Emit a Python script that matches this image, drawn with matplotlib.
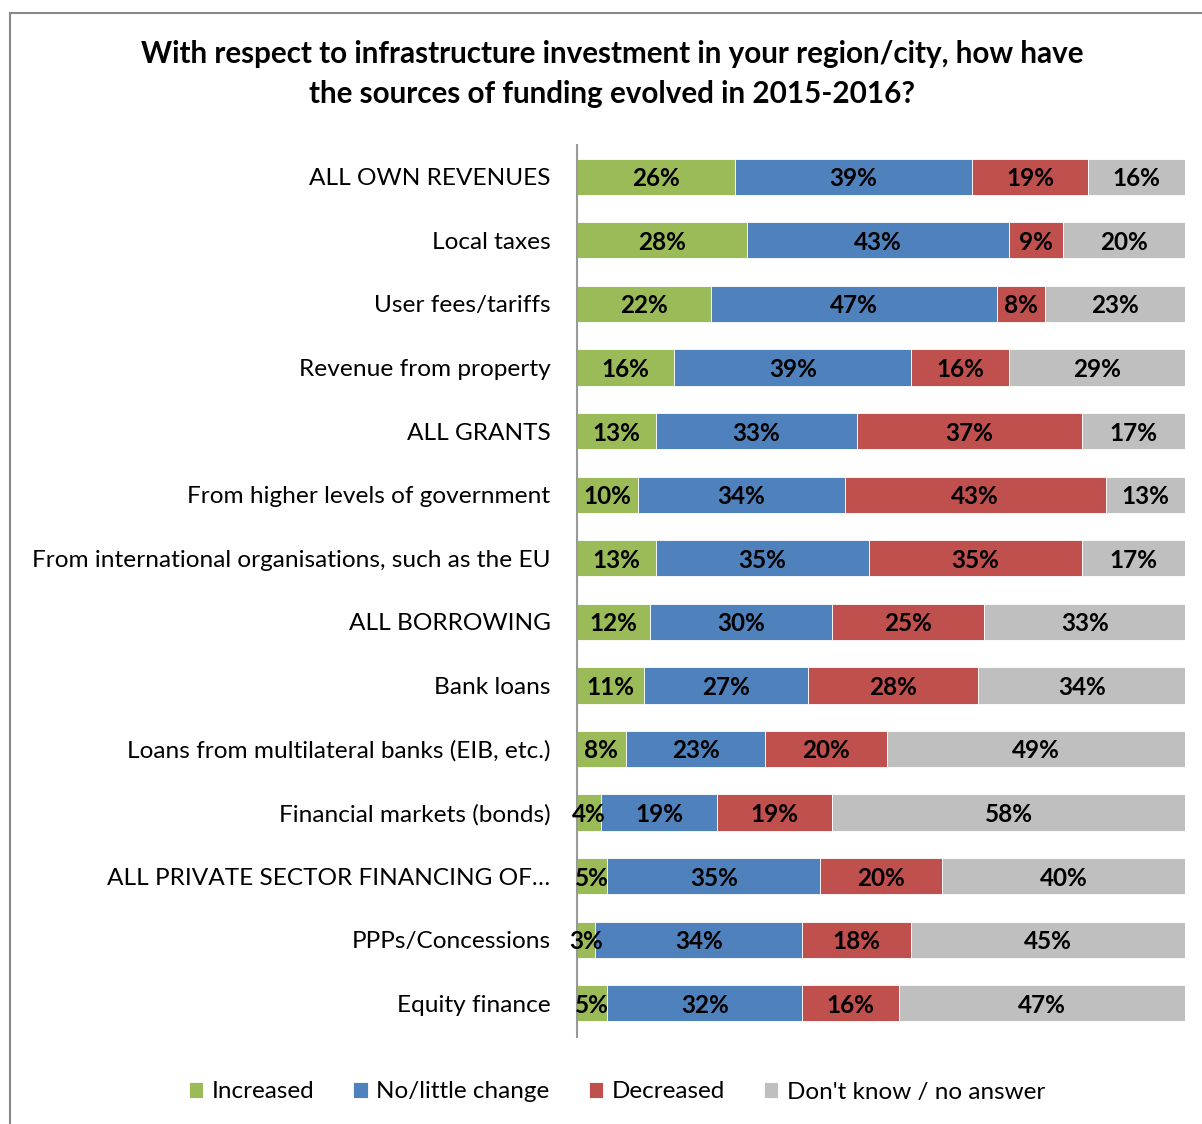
import numpy as np
import matplotlib
matplotlib.use('Agg')
import matplotlib.pyplot as plt
from matplotlib.patches import Rectangle

plt.rcParams['font.family'] = ['Lato', 'DejaVu Sans']

categories = ['ALL OWN REVENUES', 'Local taxes', 'User fees/tariffs',
              'Revenue from property', 'ALL GRANTS',
              'From higher levels of government',
              'From international organisations, such as the EU',
              'ALL BORROWING', 'Bank loans',
              'Loans from multilateral banks (EIB, etc.)',
              'Financial markets (bonds)',
              'ALL PRIVATE SECTOR FINANCING OF\u2026',
              'PPPs/Concessions', 'Equity finance']
increased = [26, 28, 22, 16, 13, 10, 13, 12, 11, 8, 4, 5, 3, 5]
no_change = [39, 43, 47, 39, 33, 34, 35, 30, 27, 23, 19, 35, 34, 32]
decreased = [19, 9, 8, 16, 37, 43, 35, 25, 28, 20, 19, 20, 18, 16]
dont_know = [16, 20, 23, 29, 17, 13, 17, 33, 34, 49, 58, 40, 45, 47]

series = [('Increased', increased, '#9BBB59'),
          ('No/little change', no_change, '#4F81BD'),
          ('Decreased', decreased, '#C0504D'),
          ("Don't know / no answer", dont_know, '#BFBFBF')]

fig = plt.figure(figsize=(12.02, 11.24), dpi=100)
fig.patches.append(Rectangle((10/1202, -0.1), 1.2, 1 - 13/1124 + 0.1,
                             transform=fig.transFigure, fill=False,
                             edgecolor='#888888', linewidth=1.5))
ax = fig.add_axes([577/1202, 1 - 1037/1124, 608/1202, 892/1124])

y = np.arange(len(categories))
left = np.zeros(len(categories))
for name, vals, col in series:
    vals = np.array(vals, dtype=float)
    bars = ax.barh(y, vals, left=left, height=0.57, color=col,
                   edgecolor='white', linewidth=0.6, label=name)
    for yi, l, v in zip(y, left, vals):
        ax.text(l + v / 2, yi + 0.03, '%d%%' % v, ha='center', va='center',
                fontsize=17.5, fontweight='bold', color='black')
    left += vals

ax.set_xlim(0, 100)
ax.set_ylim(len(categories) - 0.47, -0.5)
ax.set_yticks(y)
ax.set_yticklabels(categories, fontsize=17.6)
ax.tick_params(axis='y', length=0, pad=19)
ax.set_xticks([])
for s in ['top', 'right', 'bottom']:
    ax.spines[s].set_visible(False)
ax.spines['left'].set_color('#999999')
ax.spines['left'].set_linewidth(1.5)

fig.text(612/1202, 1 - 74/1124,
         'With respect to infrastructure investment in your region/city, how have\n'
         'the sources of funding evolved in 2015-2016?',
         ha='center', va='center', fontsize=21.3, fontweight='bold',
         linespacing=1.5)

fig.legend(loc='center', bbox_to_anchor=(617/1202, 1 - 1092/1124), ncol=4,
           frameon=False, fontsize=17.5, handlelength=0.6, handleheight=0.6,
           handletextpad=0.35, columnspacing=1.6)

plt.savefig('out.png', dpi=100)
